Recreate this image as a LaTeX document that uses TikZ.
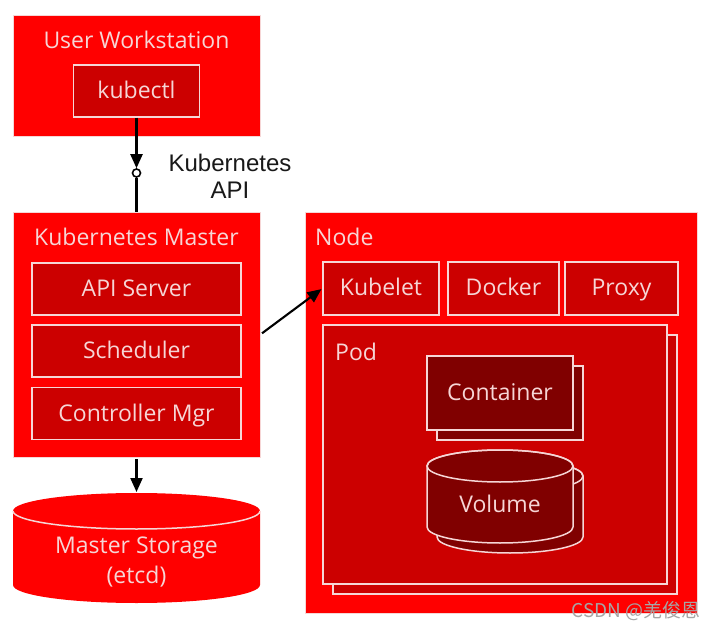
\documentclass[tikz,border=0pt]{standalone}
\usepackage{fontspec}
\setmainfont{Open Sans}
\newfontfamily\apifont{Liberation Sans}
\newfontfamily\cjkfont{Noto Sans CJK SC}
\usetikzlibrary{arrows.meta}
\definecolor{kred}{HTML}{FF0000}
\definecolor{kmid}{HTML}{CC0000}
\definecolor{kdark}{HTML}{800000}
\definecolor{kline}{HTML}{F6D6D6}
\tikzset{
  boxouter/.style={fill=kred,draw=kline,line width=0.8pt,inner sep=0pt},
  boxpart/.style={fill=kmid,draw=kline,line width=1.5pt,inner sep=0pt,text=kline,text height=16pt,text depth=1pt,font=\fontsize{23}{27}\selectfont},
  boxinner/.style={boxpart,fill=kdark},
  heading/.style={text=kline,inner sep=0pt,font=\fontsize{23}{30}\selectfont},
  link/.style={line width=2.1pt,-{Triangle[length=14pt,width=12pt]}}
}
\begin{document}
\begin{tikzpicture}[x=1pt,y=-1pt]
\useasboundingbox[fill=white](0,0)rectangle(718,631);
% workstation
\node[boxouter,minimum width=247pt,minimum height=121pt](userws)at(136.5,75.5){};
\node[heading](wstitle)at(136.5,40){User Workstation};
\node[boxpart,minimum width=126pt,minimum height=52pt](kubectl)at(136.5,91){kubectl};
% master
\node[boxouter,minimum width=247pt,minimum height=245pt](master)at(136.5,334.5){};
\node[heading](mtitle)at(136.5,237){Kubernetes Master};
\node[boxpart,minimum width=209pt,minimum height=52pt](apiserver)at(136.5,289){API Server};
\node[boxpart,minimum width=209pt,minimum height=52pt](scheduler)at(136.5,351){Scheduler};
\node[boxpart,minimum width=209pt,minimum height=52pt](ctrlmgr)at(136.5,413.5){Controller Mgr};
% node
\node[boxouter,minimum width=392pt,minimum height=401pt](worker)at(501,412.5){};
\node[heading,anchor=west](ntitle)at(315,237){Node};
\node[boxpart,minimum width=116pt,minimum height=53pt](kubelet)at(381,288.5){Kubelet};
\node[boxpart,minimum width=111pt,minimum height=53pt](docker)at(503.5,288.5){Docker};
\node[boxpart,minimum width=113pt,minimum height=53pt](proxy)at(621.5,288.5){Proxy};
\node[boxpart,minimum width=344pt,minimum height=259pt](podback)at(505,464.5){};
\node[boxpart,minimum width=344pt,minimum height=259pt](pod)at(495,454.5){};
\node[heading,anchor=west](podtitle)at(335,352){Pod};
\node[boxinner,minimum width=146pt,minimum height=74pt](containerback)at(510,403){};
\node[boxinner,minimum width=146pt,minimum height=74pt](container)at(500,393){Container};
% volume
\foreach \d in {10,0}{
  \filldraw[fill=kdark,draw=kline,line width=1.5pt](427+\d,466+\d)--(427+\d,527+\d)
    arc[start angle=180,end angle=360,x radius=73pt,y radius=16pt]--(573+\d,466+\d)
    arc[start angle=0,end angle=180,x radius=73pt,y radius=16pt]--cycle;
  \draw[kline,line width=1.5pt](500+\d,466+\d)ellipse[x radius=73pt,y radius=16pt];
}
\node[heading](volume)at(500,504){Volume};
% storage
\fill[kred](13,511)--(13,585)arc[start angle=180,end angle=360,x radius=123.5pt,y radius=18pt]
  --(260,511)arc[start angle=0,end angle=180,x radius=123.5pt,y radius=18pt]--cycle;
\draw[kline,line width=1.5pt](13,511)arc[start angle=180,end angle=360,x radius=123.5pt,y radius=18pt];
\node[heading,align=center](storage)at(136.5,562){Master Storage\\(etcd)};
\coordinate(storetop)at(136.5,492);
% links
\node[circle,draw,fill=white,line width=1.6pt,inner sep=0pt,minimum size=8pt](apiport)at(136.5,173){};
\draw[link](kubectl)--(apiport);
\draw[line width=2.1pt](apiport)--(master);
\node[align=center,text=black!90,inner sep=0pt,font=\apifont\fontsize{24}{27}\selectfont](apilabel)at(230,176){Kubernetes\\API};
\draw[link,shorten <=2pt](master.south)--(storetop);
\draw[link,shorten <=2pt,shorten >=1pt](master.east)--(kubelet.west);
\node[anchor=east,text=black!35,inner sep=0pt,font=\cjkfont\fontsize{19}{20}\selectfont](mark)at(701,611){CSDN @羌俊恩};
\end{tikzpicture}
\end{document}
